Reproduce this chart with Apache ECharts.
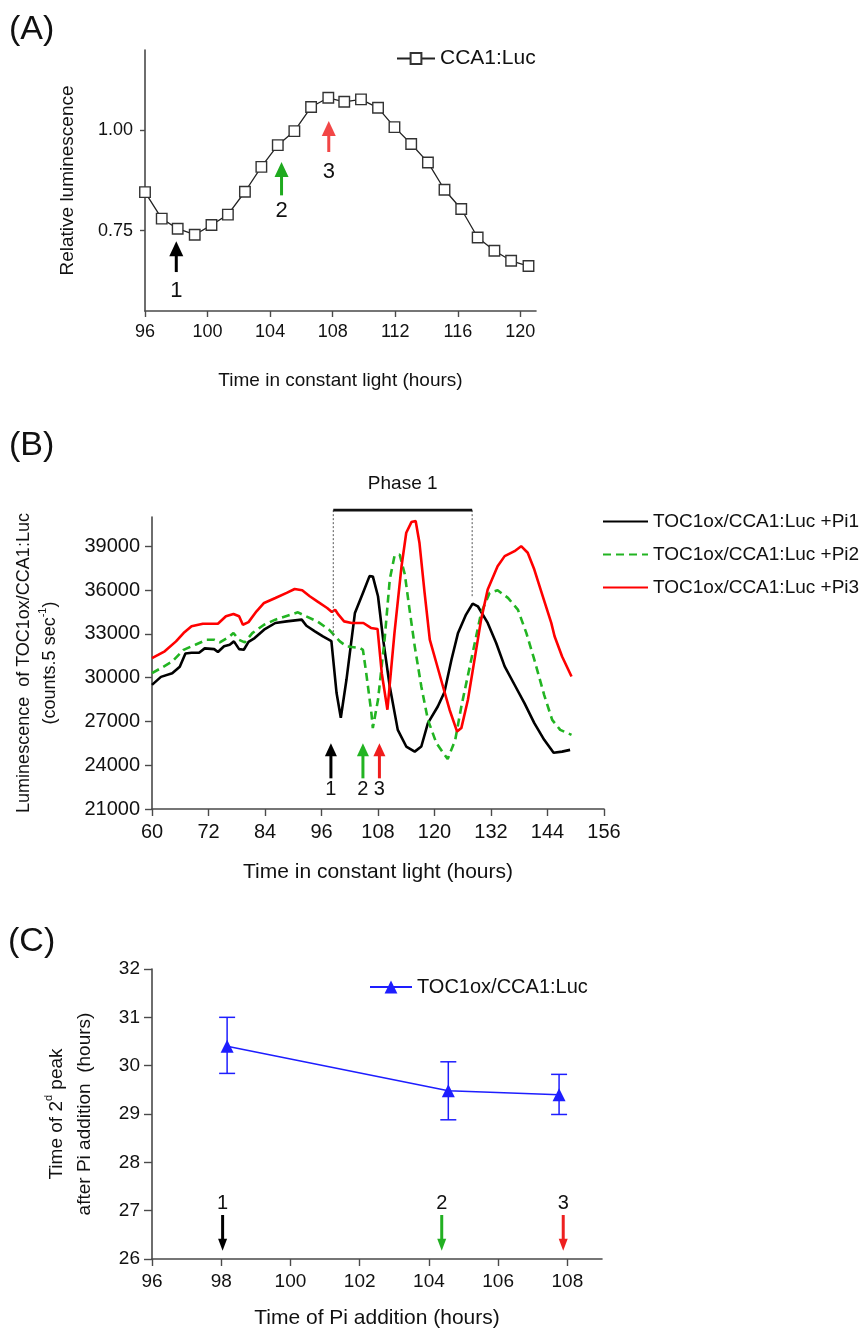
<!DOCTYPE html>
<html>
<head>
<meta charset="utf-8">
<script src="https://cdn.jsdelivr.net/npm/echarts@6/dist/echarts.min.js"></script>
<style>
html,body{margin:0;padding:0;background:#fff;}
#chart{width:863px;height:1330px;}
</style>
</head>
<body>
<div id="chart"></div>
<script>
// ---------------- Panel A data ----------------
const timeA = [96.0, 97.07, 98.09, 99.18, 100.25, 101.30, 102.39, 103.44, 104.49, 105.55, 106.62, 107.72,
               108.74, 109.81, 110.90, 111.95, 113.02, 114.09, 115.15, 116.22, 117.27, 118.34, 119.41, 120.52];
const lumA = [0.846, 0.780, 0.755, 0.740, 0.764, 0.790, 0.847, 0.909, 0.963, 0.998, 1.058, 1.081,
              1.071, 1.077, 1.056, 1.008, 0.966, 0.920, 0.852, 0.804, 0.733, 0.700, 0.675, 0.662];
const ticksAx = [96, 100, 104, 108, 112, 116, 120];
const ticksAy = [0.75, 1.00];
const arrowLabels = ['1', '2', '3'];
const arrowAx = [98.0, 104.73, 107.75];
const arrowAtail = [0.647, 0.838, 0.946];
const arrowAtip = [0.724, 0.921, 1.023];
const arrowAlabelY = [0.601, 0.800, 0.896];

// ---------------- Panel B data ----------------
const timePi1 = [60, 61.9, 64.3, 65.9, 67.1, 68.4, 70.0, 71.2, 73.2, 74.0, 75.3, 76.5, 77.4, 78.5, 79.5, 80.5,
  81.8, 83.8, 86.2, 88.6, 91.8, 92.8, 94.6, 96.3, 98.1, 99.2, 100.1, 101.3, 103.1, 104.8, 106.2, 106.9, 108.0,
  109.1, 110.5, 112.2, 114.0, 115.8, 117.2, 118.6, 120.7, 122.1, 123.6, 125.0, 126.7, 128.1, 129.2, 131.3,
  133.1, 134.9, 137.0, 139.1, 141.2, 143.3, 145.3, 147.1, 148.8];
const lumPi1 = [29500, 30050, 30300, 30750, 31650, 31700, 31700, 32000, 31950, 31750, 32150, 32250, 32480, 31950,
  31910, 32450, 32710, 33280, 33740, 33850, 33970, 33550, 33170, 32820, 32500, 28940, 27250, 29850, 34430, 35800,
  36950, 36930, 35570, 32600, 29390, 26420, 25280, 24930, 25280, 26880, 28020, 29000, 31226, 33060, 34316, 35070,
  34885, 33745, 32373, 30767, 29510, 28255, 26880, 25736, 24850, 24930, 25050];

const timePi2 = [60, 61.9, 64.3, 66.7, 69.2, 71.6, 73.2, 74.4, 76.5, 77.3, 78.5, 79.7, 81.3, 83.8, 86.2, 89.5,
  91.0, 92.7, 95.1, 97.6, 99.9, 101.3, 104.1, 104.8, 105.5, 106.6, 106.9, 108.0, 109.4, 110.5, 111.5, 112.6,
  113.7, 114.7, 115.8, 117.2, 118.6, 120.4, 122.8, 124.4, 125.7, 127.8, 129.9, 131.7, 133.4, 135.6, 137.7,
  139.5, 141.2, 143.3, 145.0, 146.7, 149.1];
const lumPi2 = [30300, 30650, 31100, 31900, 32250, 32590, 32590, 32410, 32820, 33050, 32590, 32410, 33050, 33620,
  33970, 34310, 34470, 34200, 33850, 33280, 32480, 32140, 32030, 31900, 30310, 27570, 26540, 28480, 32600, 36720,
  38320, 38430, 37060, 34660, 32140, 29390, 27110, 25510, 24420, 25730, 28020, 31226, 34430, 35800, 35980, 35460,
  34660, 33060, 31226, 28800, 27100, 26420, 26080];

const timePi3 = [60, 62.7, 65.1, 66.7, 68.4, 70.8, 74.0, 75.7, 77.3, 78.5, 79.3, 80.5, 82.2, 83.8, 86.2, 88.6,
  90.3, 91.9, 93.5, 95.1, 97.2, 98.2, 98.9, 99.6, 100.8, 102.4, 104.9, 106.5, 107.9, 108.8, 110.0, 111.5, 113.0,
  114.0, 115.1, 116.0, 116.8, 117.9, 119.0, 120.4, 121.8, 123.2, 124.8, 125.7, 127.1, 128.5, 129.9, 131.3, 133.4,
  134.9, 137.0, 138.4, 139.8, 141.2, 143.0, 144.8, 145.5, 147.1, 149.1];
const lumPi3 = [31340, 31800, 32480, 33050, 33510, 33690, 33690, 34200, 34360, 34200, 33620, 33800, 34540, 35110,
  35450, 35800, 36070, 35980, 35570, 35220, 34770, 34490, 34650, 34310, 33850, 33740, 33740, 33400, 33330, 30300,
  27800, 33060, 37630, 39920, 40650, 40720, 39240, 35800, 32600, 31000, 29390, 27800, 26300, 26540, 28480, 31230,
  33970, 36030, 37630, 38320, 38660, 39000, 38550, 37400, 35570, 33750, 32830, 31450, 30080];

const seriesNamesB = ['TOC1ox/CCA1:Luc +Pi1', 'TOC1ox/CCA1:Luc +Pi2', 'TOC1ox/CCA1:Luc +Pi3'];
const ticksBy = [21000, 24000, 27000, 30000, 33000, 36000, 39000];
const arrowBx = [98.0, 104.8, 108.3];
const arrowBtail = [23100, 23100, 23100];
const arrowBtip = [25500, 25500, 25500];
const arrowBlabelY = [22350, 22350, 22350];
const phaseSpan = [98.5, 128.0];
const phaseBarY = 41470;
const phaseDropY = [32830, 35470];
const phaseLabelY = 43300;

// ---------------- Panel C data ----------------
const piAddTime = [98.17, 104.56, 107.76];
const peakTime = [30.40, 29.48, 29.40];
const peakLow = [29.84, 28.88, 28.99];
const peakHigh = [31.00, 30.08, 29.82];
const ticksCx = [96, 98, 100, 102, 104, 106, 108];
const arrowCx = [98.04, 104.37, 107.88];
const arrowCtail = [26.91, 26.91, 26.91];
const arrowCtip = [26.17, 26.17, 26.17];
const arrowClabelY = [27.15, 27.15, 27.15];

// ---------------- styles ----------------
const FONT = '"Liberation Sans", Arial, Helvetica, sans-serif';
const AXIS_COLOR = '#4a4a4a';
const TEXT_COLOR = '#111';
const arrowColorsA = ['#000000', '#1faa1f', '#f24646'];
const arrowColorsB = ['#000000', '#22b422', '#f01c1c'];
const arrowColorsC = ['#000000', '#22b022', '#ee2020'];
const BLUE = '#1e1eff';

function pairs(xs, ys) { return xs.map((x, i) => [x, ys[i]]); }

function axisCommon(tickLen, labelSize, margin) {
  return {
    axisLine: { onZero: false, lineStyle: { color: AXIS_COLOR, width: 1.6 } },
    axisTick: { length: tickLen, lineStyle: { color: AXIS_COLOR, width: 1.4 } },
    axisLabel: { fontSize: labelSize, color: TEXT_COLOR, fontFamily: FONT, margin: margin, formatter: v => String(v) },
    splitLine: { show: false }
  };
}

function arrowSeries(idx, xs, tails, tips, labelYs, colors, sty) {
  return {
    type: 'custom', xAxisIndex: idx, yAxisIndex: idx, silent: true, z: 6,
    data: xs.map((x, i) => [x, tails[i], tips[i], labelYs[i]]),
    renderItem(params, api) {
      const i = params.dataIndex;
      const x = api.value(0);
      const p0 = api.coord([x, api.value(1)]);
      const p1 = api.coord([x, api.value(2)]);
      const pl = api.coord([x, api.value(3)]);
      const dir = p1[1] > p0[1] ? 1 : -1;
      const base = p1[1] - dir * sty.head;
      const c = colors[i];
      return {
        type: 'group',
        children: [
          { type: 'line', shape: { x1: p0[0], y1: p0[1], x2: p0[0], y2: base + dir }, style: { stroke: c, lineWidth: sty.shaft } },
          { type: 'polygon', shape: { points: [[p1[0], p1[1]], [p1[0] - sty.headW / 2, base], [p1[0] + sty.headW / 2, base]] }, style: { fill: c } },
          { type: 'text', x: pl[0], y: pl[1], style: { text: arrowLabels[i], align: 'center', verticalAlign: 'middle', fontSize: sty.font, fontFamily: FONT, fill: TEXT_COLOR } }
        ]
      };
    }
  };
}

const chart = echarts.init(document.getElementById('chart'), null, { renderer: 'canvas' });

const option = {
  animation: false,
  backgroundColor: '#fff',
  textStyle: { fontFamily: FONT },
  grid: [
    { left: 145, top: 50, width: 391, height: 261, containLabel: false, outerBoundsMode: 'none' },
    { left: 152, top: 517, width: 452, height: 292, containLabel: false, outerBoundsMode: 'none' },
    { left: 152, top: 969, width: 450, height: 290, containLabel: false, outerBoundsMode: 'none' }
  ],
  xAxis: [
    Object.assign(axisCommon(6, 18, 12), {
      gridIndex: 0, type: 'value', min: 96, max: 121,
      name: 'Time in constant light (hours)', nameLocation: 'middle', nameGap: 60,
      nameTextStyle: { fontSize: 19, color: TEXT_COLOR, fontFamily: FONT }
    }),
    Object.assign(axisCommon(7, 20, 13), {
      gridIndex: 1, type: 'value', min: 60, max: 156, interval: 12,
      name: 'Time in constant light (hours)', nameLocation: 'middle', nameGap: 53,
      nameTextStyle: { fontSize: 21, color: TEXT_COLOR, fontFamily: FONT }
    }),
    Object.assign(axisCommon(7, 19, 13), {
      gridIndex: 2, type: 'value', min: 96, max: 109,
      name: 'Time of Pi addition (hours)', nameLocation: 'middle', nameGap: 49,
      nameTextStyle: { fontSize: 21, color: TEXT_COLOR, fontFamily: FONT }
    })
  ],
  yAxis: [
    Object.assign(axisCommon(5, 18, 12), {
      gridIndex: 0, type: 'value', min: 0.55, max: 1.2,
      name: 'Relative luminescence', nameLocation: 'middle', nameGap: 66,
      nameTextStyle: { fontSize: 19, lineHeight: 22, color: TEXT_COLOR, fontFamily: FONT }
    }),
    Object.assign(axisCommon(7, 20, 12), {
      gridIndex: 1, type: 'value', min: 21000, max: 41000,
      name: 'Luminescence  of TOC1ox/CCA1:Luc\n(counts.5 sec{sup|-1})', nameLocation: 'middle', nameGap: 89,
      nameTextStyle: {
        fontSize: 18, lineHeight: 26, color: TEXT_COLOR, fontFamily: FONT,
        rich: { sup: { fontSize: 11, lineHeight: 16, verticalAlign: 'top', color: TEXT_COLOR, fontFamily: FONT } }
      }
    }),
    Object.assign(axisCommon(8, 19, 12), {
      gridIndex: 2, type: 'value', min: 26, max: 32, interval: 1,
      name: 'Time of 2{sup|d} peak\nafter Pi addition  (hours)', nameLocation: 'middle', nameGap: 53,
      nameTextStyle: {
        fontSize: 19, lineHeight: 28, color: TEXT_COLOR, fontFamily: FONT,
        rich: { sup: { fontSize: 11, lineHeight: 17, verticalAlign: 'top', color: TEXT_COLOR, fontFamily: FONT } }
      }
    })
  ],
  legend: [
    {
      data: ['CCA1:Luc'], left: 396, top: 48, padding: 0, itemWidth: 38, itemHeight: 13.5, selectedMode: false,
      textStyle: { fontSize: 21, color: TEXT_COLOR, fontFamily: FONT }
    },
    {
      data: seriesNamesB, orient: 'vertical', left: 602, top: 512, padding: 0, itemWidth: 45, itemHeight: 14, itemGap: 14,
      selectedMode: false, itemStyle: { opacity: 0 },
      textStyle: { fontSize: 19, color: TEXT_COLOR, fontFamily: FONT }
    },
    {
      data: ['TOC1ox/CCA1:Luc'], left: 369, top: 977, padding: 0, itemWidth: 42, itemHeight: 16, selectedMode: false,
      textStyle: { fontSize: 20, color: TEXT_COLOR, fontFamily: FONT }
    }
  ],
  graphic: [
    { type: 'text', left: 9, top: 13, style: { text: '(A)', fontSize: 34, fontFamily: FONT, fill: TEXT_COLOR } },
    { type: 'text', left: 9, top: 429, style: { text: '(B)', fontSize: 34, fontFamily: FONT, fill: TEXT_COLOR } },
    { type: 'text', left: 8, top: 925, style: { text: '(C)', fontSize: 34, fontFamily: FONT, fill: TEXT_COLOR } }
  ],
  series: [
    {
      name: 'CCA1:Luc', type: 'line', xAxisIndex: 0, yAxisIndex: 0,
      data: pairs(timeA, lumA), symbol: 'rect', symbolSize: 10.5, z: 3,
      lineStyle: { color: '#222', width: 1.3 },
      itemStyle: { color: '#fff', borderColor: '#333', borderWidth: 1.4 }
    },
    {
      name: seriesNamesB[0], type: 'line', xAxisIndex: 1, yAxisIndex: 1, data: pairs(timePi1, lumPi1),
      symbol: 'none', lineStyle: { color: '#000', width: 2.6 }, itemStyle: { color: '#000' }, z: 3
    },
    {
      name: seriesNamesB[1], type: 'line', xAxisIndex: 1, yAxisIndex: 1, data: pairs(timePi2, lumPi2),
      symbol: 'none', lineStyle: { color: '#22b422', width: 2.6, type: [8, 5] }, itemStyle: { color: '#22b422' }, z: 3
    },
    {
      name: seriesNamesB[2], type: 'line', xAxisIndex: 1, yAxisIndex: 1, data: pairs(timePi3, lumPi3),
      symbol: 'none', lineStyle: { color: '#f00', width: 2.6 }, itemStyle: { color: '#f00' }, z: 3
    },
    arrowSeries(0, arrowAx, arrowAtail, arrowAtip, arrowAlabelY, arrowColorsA, { head: 15, headW: 14, shaft: 3, font: 22 }),
    arrowSeries(1, arrowBx, arrowBtail, arrowBtip, arrowBlabelY, arrowColorsB, { head: 13, headW: 12, shaft: 3, font: 20 }),
    {
      type: 'custom', xAxisIndex: 1, yAxisIndex: 1, silent: true, z: 6,
      data: [[phaseSpan[0], phaseBarY]],
      renderItem(params, api) {
        const pL = api.coord([phaseSpan[0], phaseBarY]);
        const pR = api.coord([phaseSpan[1], phaseBarY]);
        const dL = api.coord([phaseSpan[0], phaseDropY[0]]);
        const dR = api.coord([phaseSpan[1], phaseDropY[1]]);
        const pt = api.coord([(phaseSpan[0] + phaseSpan[1]) / 2, phaseLabelY]);
        return {
          type: 'group',
          children: [
            { type: 'line', shape: { x1: pL[0], y1: pL[1], x2: dL[0], y2: dL[1] }, style: { stroke: '#555', lineWidth: 1, lineDash: [2, 2] } },
            { type: 'line', shape: { x1: pR[0], y1: pR[1], x2: dR[0], y2: dR[1] }, style: { stroke: '#555', lineWidth: 1, lineDash: [2, 2] } },
            { type: 'line', shape: { x1: pL[0], y1: pL[1], x2: pR[0], y2: pR[1] }, style: { stroke: '#111', lineWidth: 2.8 } },
            { type: 'text', x: pt[0], y: pt[1], style: { text: 'Phase 1', align: 'center', verticalAlign: 'middle', fontSize: 19, fontFamily: FONT, fill: TEXT_COLOR } }
          ]
        };
      }
    },
    {
      name: 'TOC1ox/CCA1:Luc', type: 'line', xAxisIndex: 2, yAxisIndex: 2,
      data: pairs(piAddTime, peakTime), symbol: 'triangle', symbolSize: 13, z: 4,
      lineStyle: { color: BLUE, width: 1.5 }, itemStyle: { color: BLUE }
    },
    {
      type: 'custom', xAxisIndex: 2, yAxisIndex: 2, silent: true, z: 3,
      data: piAddTime.map((t, i) => [t, peakLow[i], peakHigh[i]]),
      renderItem(params, api) {
        const x = api.value(0);
        const lo = api.coord([x, api.value(1)]);
        const hi = api.coord([x, api.value(2)]);
        const w = 8;
        const st = { stroke: BLUE, lineWidth: 1.5 };
        return {
          type: 'group',
          children: [
            { type: 'line', shape: { x1: lo[0], y1: lo[1], x2: hi[0], y2: hi[1] }, style: st },
            { type: 'line', shape: { x1: lo[0] - w, y1: lo[1], x2: lo[0] + w, y2: lo[1] }, style: st },
            { type: 'line', shape: { x1: hi[0] - w, y1: hi[1], x2: hi[0] + w, y2: hi[1] }, style: st }
          ]
        };
      }
    },
    arrowSeries(2, arrowCx, arrowCtail, arrowCtip, arrowClabelY, arrowColorsC, { head: 12, headW: 9, shaft: 3, font: 20 })
  ]
};

// custom label/tick positions
option.xAxis[0].axisLabel.customValues = ticksAx;
option.xAxis[0].axisTick.customValues = ticksAx;
option.yAxis[0].axisLabel.customValues = ticksAy;
option.yAxis[0].axisTick.customValues = ticksAy;
option.yAxis[0].axisLabel.formatter = v => Number(v).toFixed(2);
option.yAxis[1].axisLabel.customValues = ticksBy;
option.yAxis[1].axisTick.customValues = ticksBy;
option.xAxis[2].axisLabel.customValues = ticksCx;
option.xAxis[2].axisTick.customValues = ticksCx;

chart.setOption(option);
</script>
</body>
</html>
